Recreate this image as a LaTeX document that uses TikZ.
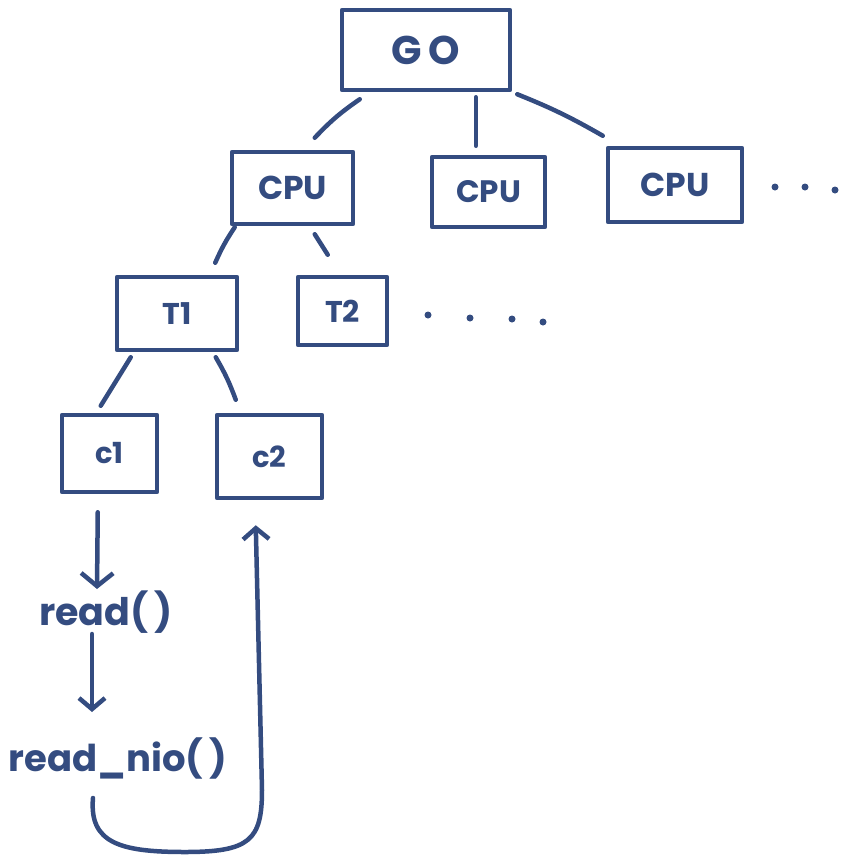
\documentclass[tikz,border=0pt]{standalone}
\usepackage{fontspec}
\setmainfont{Poppins}
\usetikzlibrary{arrows.meta}
\definecolor{ink}{RGB}{52,76,128}
\tikzset{
  pen/.style={draw=ink, line width=4.5pt, line cap=round, line join=round},
  box/.style={pen, rectangle, inner sep=0pt, text=ink},
  lbl/.style={text=ink, inner sep=0pt, font=\fontsize{38}{40}\selectfont\bfseries},
  bigtip/.style={-{Straight Barb[length=13pt,width=32pt,line width=4.5pt]}},
  midtip/.style={-{Straight Barb[length=11pt,width=26pt,line width=4.5pt]}},
  dot/.style={fill=ink, draw=none}
}
\begin{document}
\begin{tikzpicture}[x=1pt,y=-1pt]
\useasboundingbox (0,0) rectangle (860,855);
% boxes
\node[box, minimum width=168pt, minimum height=80pt, font=\fontsize{40}{42}\selectfont\bfseries] (go) at (426,50) {G\,O};
\node[box, minimum width=121pt, minimum height=72pt, font=\fontsize{33}{35}\selectfont\bfseries] (cpu1) at (292.5,188) {CPU};
\node[box, minimum width=113pt, minimum height=70pt, font=\fontsize{31}{33}\selectfont\bfseries] (cpu2) at (488.5,192) {CPU};
\node[box, minimum width=134pt, minimum height=74pt, font=\fontsize{33}{35}\selectfont\bfseries] (cpu3) at (675,185) {CPU};
\node[box, minimum width=120pt, minimum height=73pt, font=\fontsize{30}{32}\selectfont\bfseries] (t1) at (177,313.5) {T1};
\node[box, minimum width=89pt, minimum height=68pt, font=\fontsize{30}{32}\selectfont\bfseries] (t2) at (342.5,311) {T2};
\node[box, minimum width=95pt, minimum height=77pt, font=\fontsize{29}{31}\selectfont\bfseries] (c1) at (109.5,453.5) {c1};
\node[box, minimum width=105pt, minimum height=83pt, font=\fontsize{29}{31}\selectfont\bfseries] (c2) at (269.5,456.5) {c2};
% labels
\node[lbl] (read) at (106,612) {read(\,)};
\node[lbl, font=\fontsize{37}{39}\selectfont\bfseries] (nio) at (118,758) {read\_nio(\,)};
% tree edges
\draw[pen] ([shift={(20,7)}]go.south west) to[bend right=6] ([shift={(85,-12)}]cpu1.north west);
\draw[pen] ([shift={(136,5)}]go.south west) -- ([shift={(46,-9)}]cpu2.north west);
\draw[pen] ([shift={(5,2)}]go.south east) to[bend left=4] ([shift={(-3,-10)}]cpu3.north west);
\draw[pen] ([shift={(5,1)}]cpu1.south west) to[bend right=5] ([shift={(-24,-12)}]t1.north east);
\draw[pen] ([shift={(85,8)}]cpu1.south west) -- ([shift={(32,-20)}]t2.north west);
\draw[pen] ([shift={(16,5)}]t1.south west) -- ([shift={(41,-7)}]c1.north west);
\draw[pen] ([shift={(101,5)}]t1.south west) to[bend left=5] ([shift={(21,-13)}]c2.north west);
% flow arrows
\draw[pen, bigtip] ([shift={(38,18)}]c1.south west) -- ([shift={(-9,-23)}]read.center);
\draw[pen, midtip] ([shift={(-14,22)}]read.center) -- ([shift={(-26,-46)}]nio.center);
\coordinate (cs) at ([shift={(-25,40)}]nio.center);
\draw[pen, midtip] (cs) .. controls ++(-4,45) and (120,852) .. (185,852)
   .. controls (250,852) and (262,840) .. (262,790) -- ([shift={(41,25)}]c2.south west);
% ellipsis dots
\foreach \p in {(775,187),(805,187),(835,190),(428,315),(470,318),(512,319),(543,322)}
  \fill[dot] \p circle (3.5pt);
\end{tikzpicture}
\end{document}
